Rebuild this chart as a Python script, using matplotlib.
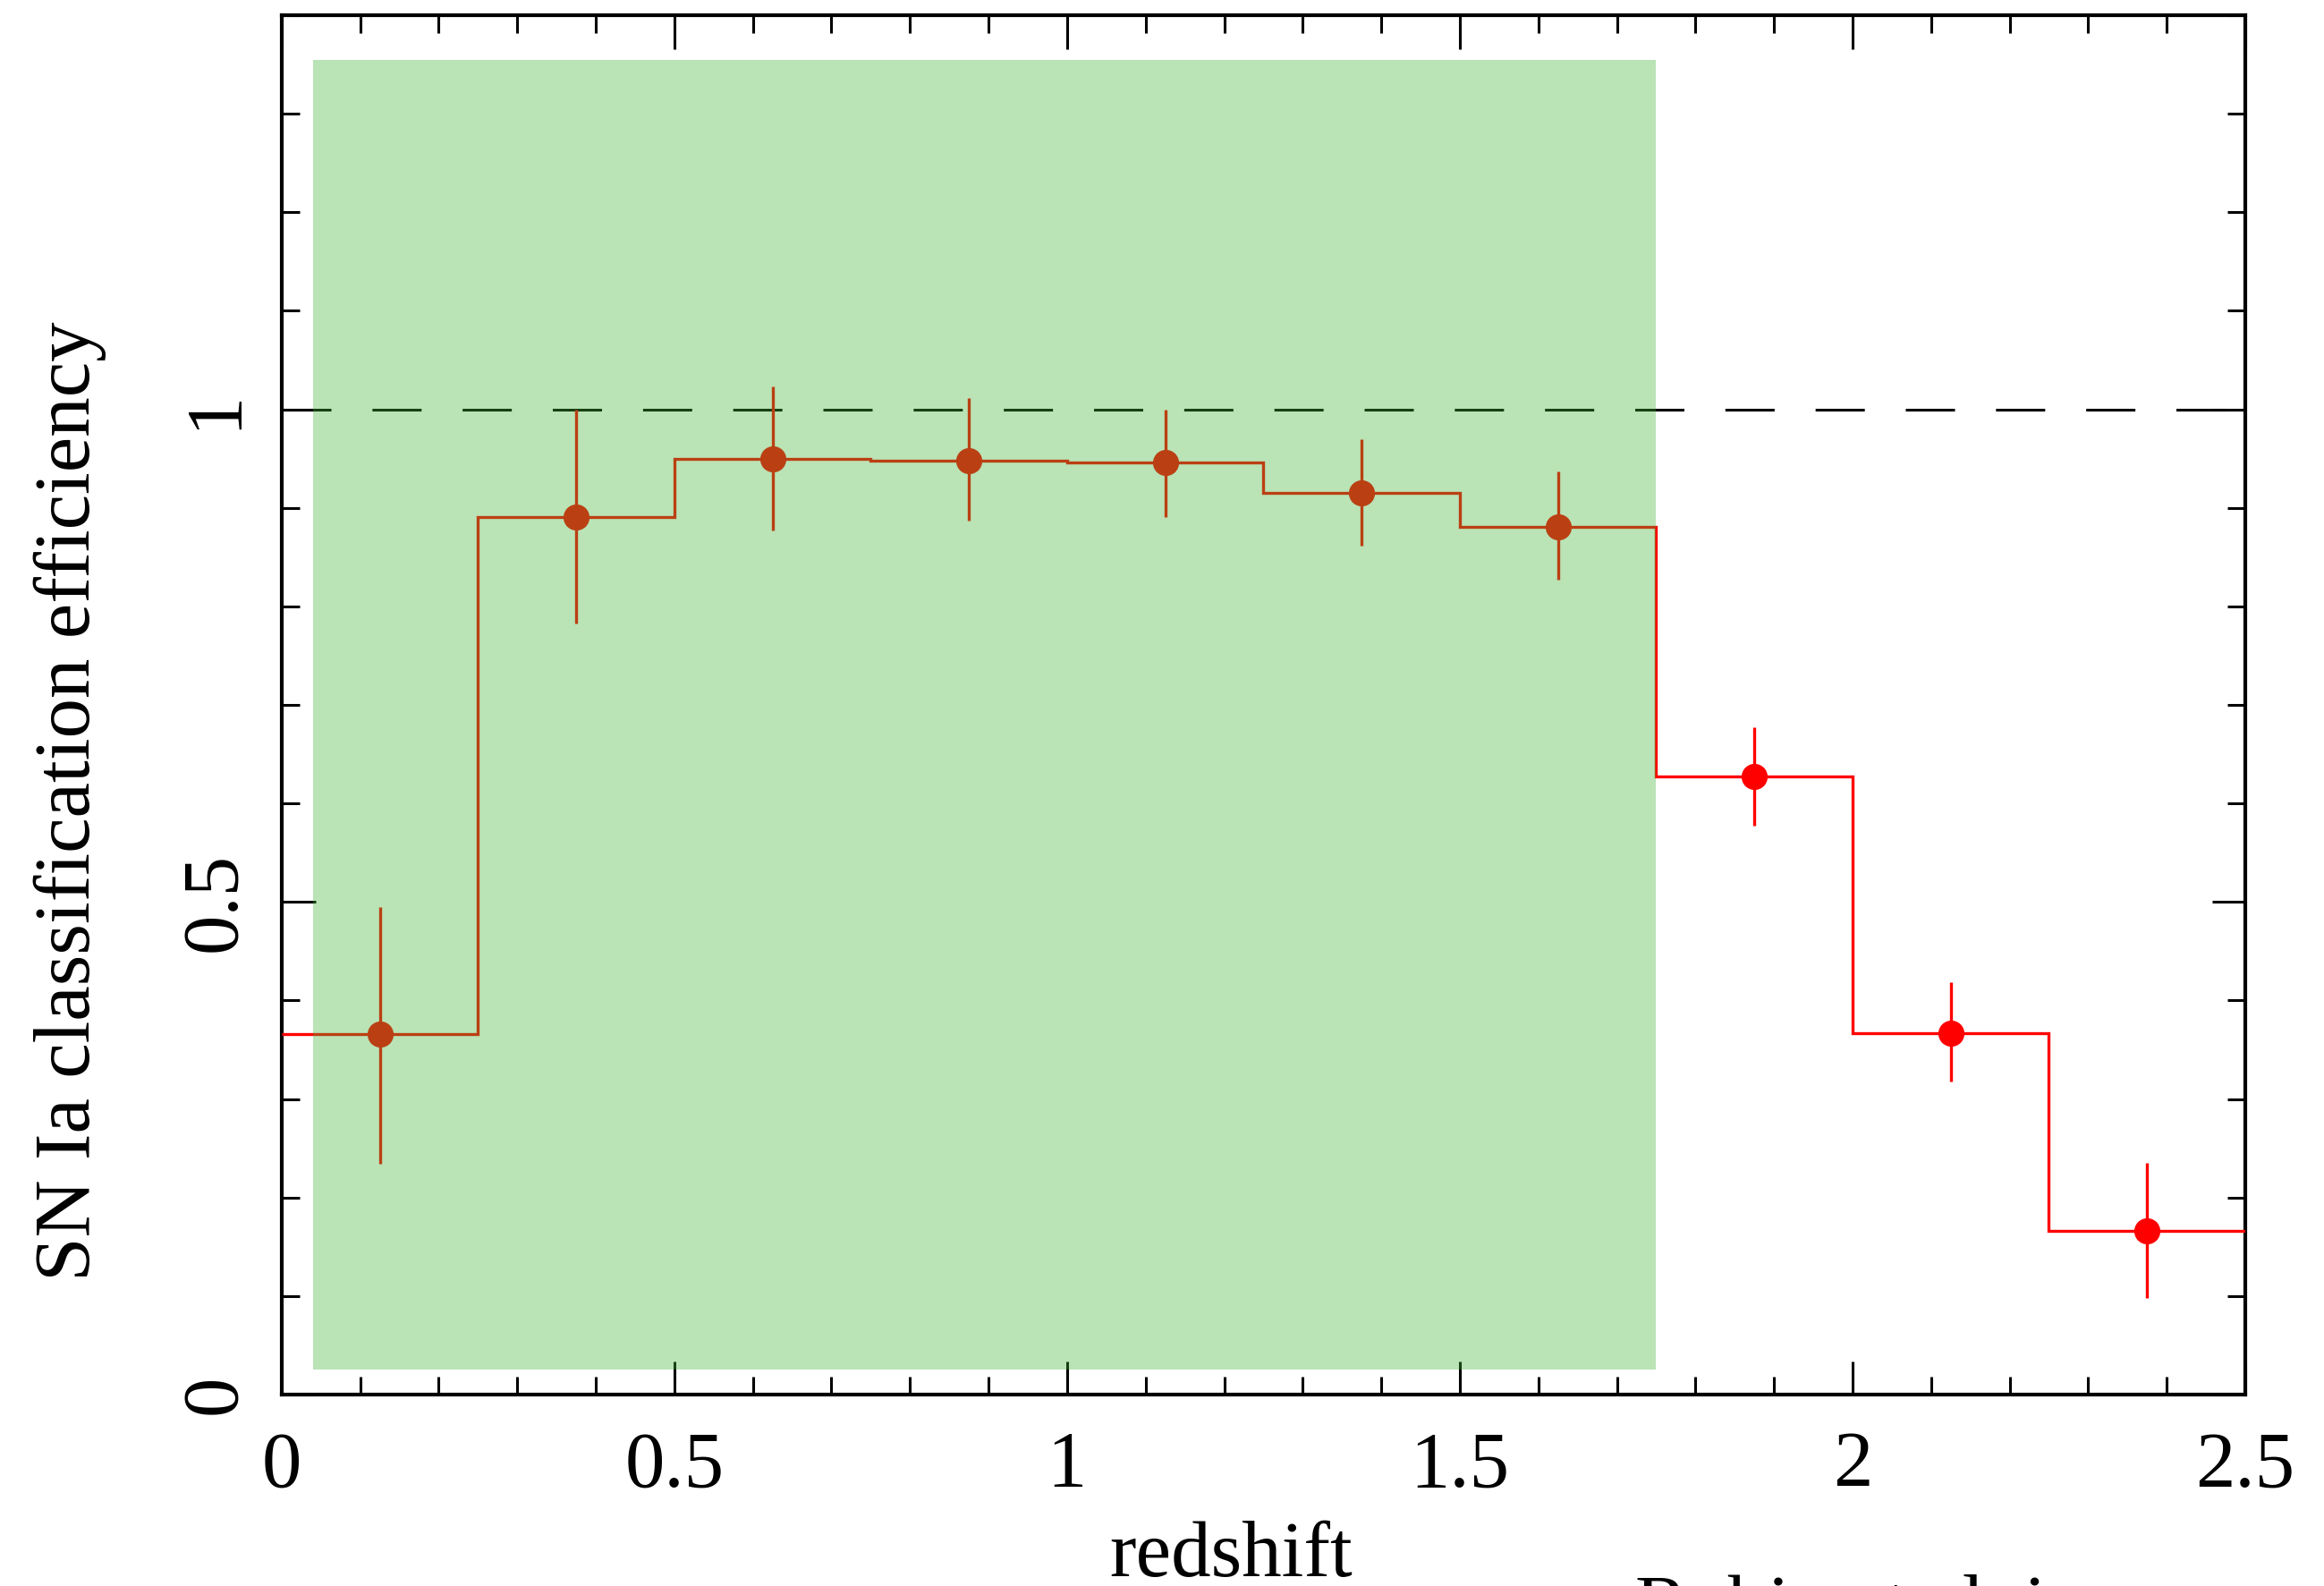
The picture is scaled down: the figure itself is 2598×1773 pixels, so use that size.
import numpy as np
import matplotlib
matplotlib.use("Agg")
import matplotlib.pyplot as plt
from matplotlib.patches import Rectangle
from matplotlib.ticker import MultipleLocator, FormatStrFormatter

plt.rcParams['font.family'] = ['Liberation Serif', 'DejaVu Serif']

# redshift bins and SN Ia classification efficiency
bin_edges = [0, 0.25, 0.5, 0.75, 1.0, 1.25, 1.5, 1.75, 2.0, 2.25, 2.5]
bin_centers = [0.125, 0.375, 0.625, 0.875, 1.125, 1.375, 1.625, 1.875, 2.125, 2.375]
efficiency = [0.366, 0.891, 0.950, 0.948, 0.946, 0.915, 0.881, 0.627, 0.367, 0.166]
eff_upper = [0.495, 1.000, 1.023, 1.011, 1.000, 0.970, 0.937, 0.677, 0.419, 0.235]
eff_lower = [0.234, 0.783, 0.877, 0.887, 0.891, 0.862, 0.827, 0.577, 0.318, 0.098]

# shaded redshift range (x0, x1, y0, y1)
shade_x = [0.04, 1.75]
shade_y = [0.025, 1.355]

eff = np.array(efficiency)
yerr = [eff - np.array(eff_lower), np.array(eff_upper) - eff]

fig = plt.figure(figsize=(25.98, 17.73), dpi=100)
ax = fig.add_axes([0.1212, 0.1207, 0.8449, 0.8697])

red = '#ff0000'
ax.stairs(eff, bin_edges, baseline=None, color=red, lw=2.4, zorder=3)
ax.errorbar(bin_centers, eff, yerr=yerr, fmt='o', color=red, ms=20,
            elinewidth=2.4, capsize=0, zorder=4)

# dashed line at 100% efficiency
ax.axhline(1.0, color='black', lw=2.2, ls=(0, (18, 15)), zorder=2)

# translucent green overlay, drawn on top of everything
ax.add_patch(Rectangle((shade_x[0], shade_y[0]), shade_x[1] - shade_x[0],
                       shade_y[1] - shade_y[0], facecolor='#42b437',
                       alpha=0.36, edgecolor='none', zorder=10))

ax.set_xlim(0, 2.5)
ax.set_ylim(0, 1.4)

ax.xaxis.set_major_locator(MultipleLocator(0.5))
ax.xaxis.set_minor_locator(MultipleLocator(0.1))
ax.yaxis.set_major_locator(MultipleLocator(0.5))
ax.yaxis.set_minor_locator(MultipleLocator(0.1))
ax.xaxis.set_major_formatter(FormatStrFormatter('%g'))
ax.yaxis.set_major_formatter(FormatStrFormatter('%g'))

ax.tick_params(which='both', direction='in', top=True, right=True, width=2.2)
ax.tick_params(which='major', length=27)
ax.tick_params(which='minor', length=14.5)
ax.tick_params(axis='x', labelsize=64, pad=29)
ax.tick_params(axis='y', labelsize=64, pad=24, labelrotation=90)
for lab in ax.get_yticklabels():
    lab.set_va('center')
    lab.set_ha('right')

for sp in ax.spines.values():
    sp.set_linewidth(3)

fig.text(0.5296, 0.0062, 'redshift', fontsize=64, ha='center', va='baseline')
fig.text(0.0385, 0.4946, 'SN Ia classification efficiency', fontsize=64,
         rotation=90, rotation_mode='anchor', ha='center', va='baseline')
fig.text(0.7036, -0.0276, 'Rubin et al. in prep', fontsize=64,
         ha='left', va='baseline')

fig.savefig('out.png', dpi=100)
